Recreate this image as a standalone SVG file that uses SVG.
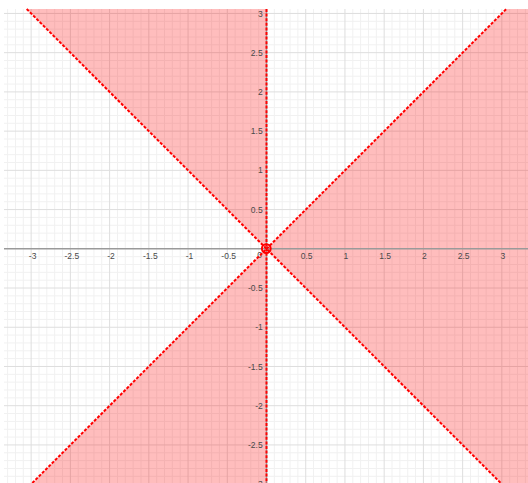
<svg xmlns="http://www.w3.org/2000/svg" width="528" height="483" viewBox="0 0 528 483">
<style>
.minor{stroke:#f1f1f1;stroke-width:1;fill:none}
.major{stroke:#dedede;stroke-width:1;fill:none}
.axis{stroke:#9a9a9a;stroke-width:1.5;fill:none}
.region{fill:#ff0000;fill-opacity:0.26;stroke:none}
.bound{stroke:#ff0000;stroke-width:2;stroke-dasharray:3 1.6;fill:none}
.lbl{font-family:"Liberation Sans",Arial,sans-serif;font-size:8.5px;fill:#4a4a4a}
.xl{text-anchor:middle}
.yl{text-anchor:end}
</style>
<rect x="0" y="0" width="528" height="483" fill="#ffffff"/>
<g id="grid">
<path class="minor" d="M7.62 9V483M15.46 9V483M23.3 9V483M38.99 9V483M46.84 9V483M54.68 9V483M62.53 9V483M78.22 9V483M86.07 9V483M93.91 9V483M101.76 9V483M117.45 9V483M125.29 9V483M133.14 9V483M140.98 9V483M156.67 9V483M164.52 9V483M172.36 9V483M180.21 9V483M195.9 9V483M203.74 9V483M211.59 9V483M219.43 9V483M235.12 9V483M242.97 9V483M250.81 9V483M258.66 9V483M274.35 9V483M282.19 9V483M290.04 9V483M297.88 9V483M313.57 9V483M321.42 9V483M329.26 9V483M337.11 9V483M352.8 9V483M360.64 9V483M368.49 9V483M376.33 9V483M392.02 9V483M399.87 9V483M407.71 9V483M415.56 9V483M431.25 9V483M439.09 9V483M446.94 9V483M454.78 9V483M470.47 9V483M478.32 9V483M486.16 9V483M494.01 9V483M509.7 9V483M517.54 9V483M525.39 9V483
M4 21.3H528M4 29.14H528M4 36.99H528M4 44.83H528M4 60.52H528M4 68.37H528M4 76.21H528M4 84.06H528M4 99.75H528M4 107.59H528M4 115.44H528M4 123.28H528M4 138.97H528M4 146.82H528M4 154.66H528M4 162.51H528M4 178.2H528M4 186.04H528M4 193.89H528M4 201.73H528M4 217.42H528M4 225.27H528M4 233.11H528M4 240.96H528M4 256.65H528M4 264.49H528M4 272.34H528M4 280.18H528M4 295.87H528M4 303.72H528M4 311.56H528M4 319.41H528M4 335.1H528M4 342.94H528M4 350.79H528M4 358.63H528M4 374.32H528M4 382.17H528M4 390.01H528M4 397.86H528M4 413.55H528M4 421.39H528M4 429.24H528M4 437.08H528M4 452.77H528M4 460.62H528M4 468.46H528M4 476.31H528"/>
<path class="major" d="M31.15 9V483M70.38 9V483M109.6 9V483M148.83 9V483M188.05 9V483M227.28 9V483M305.73 9V483M344.95 9V483M384.18 9V483M423.4 9V483M462.63 9V483M501.85 9V483
M4 13.45H528M4 52.68H528M4 91.9H528M4 131.13H528M4 170.35H528M4 209.58H528M4 288.03H528M4 327.25H528M4 366.48H528M4 405.7H528M4 444.93H528"/>
</g>
<g id="regions">
<polygon id="region-top-left" class="region" points="266.5,248.8 26.7,9 266.5,9"/>
<polygon id="region-right" class="region" points="266.5,248.8 506.3,9 528,9 528,483 500.7,483"/>
<polygon id="region-bottom-left" class="region" points="266.5,248.8 32.3,483 266.5,483"/>
</g>
<g id="axes">
<path class="axis" d="M4 248.8H528M266.5 9V483"/>
</g>
<g id="labels" class="lbl">
<text class="xl" x="32.6" y="258.5">-3</text>
<text class="xl" x="71.8" y="258.5">-2.5</text>
<text class="xl" x="111" y="258.5">-2</text>
<text class="xl" x="150.3" y="258.5">-1.5</text>
<text class="xl" x="189.5" y="258.5">-1</text>
<text class="xl" x="228.7" y="258.5">-0.5</text>
<text class="xl" x="306.7" y="258.5">0.5</text>
<text class="xl" x="345.9" y="258.5">1</text>
<text class="xl" x="385.1" y="258.5">1.5</text>
<text class="xl" x="424.4" y="258.5">2</text>
<text class="xl" x="463.6" y="258.5">2.5</text>
<text class="xl" x="502.8" y="258.5">3</text>
<text class="yl" x="262.7" y="16.5">3</text>
<text class="yl" x="262.7" y="55.7">2.5</text>
<text class="yl" x="262.7" y="94.9">2</text>
<text class="yl" x="262.7" y="134.1">1.5</text>
<text class="yl" x="262.7" y="173.4">1</text>
<text class="yl" x="262.7" y="212.6">0.5</text>
<text class="yl" x="262.7" y="291">-0.5</text>
<text class="yl" x="262.7" y="330.3">-1</text>
<text class="yl" x="262.7" y="369.5">-1.5</text>
<text class="yl" x="262.7" y="408.7">-2</text>
<text class="yl" x="262.7" y="447.9">-2.5</text>
<text class="yl" x="262.7" y="487.1">-3</text>
<text class="yl" x="262" y="257.5">0</text>
</g>
<g id="connectors">
<line id="line-neg" class="bound" x1="26.7" y1="9" x2="500.7" y2="483"/>
<line id="line-pos" class="bound" x1="32.3" y1="483" x2="506.3" y2="9"/>
<line id="line-yaxis" class="bound" x1="266.5" y1="9" x2="266.5" y2="483"/>
</g>
<g id="origin">
<circle cx="266.3" cy="248.6" r="4.4" fill="none" stroke="#ff0000" stroke-width="2"/>
</g>
</svg>
